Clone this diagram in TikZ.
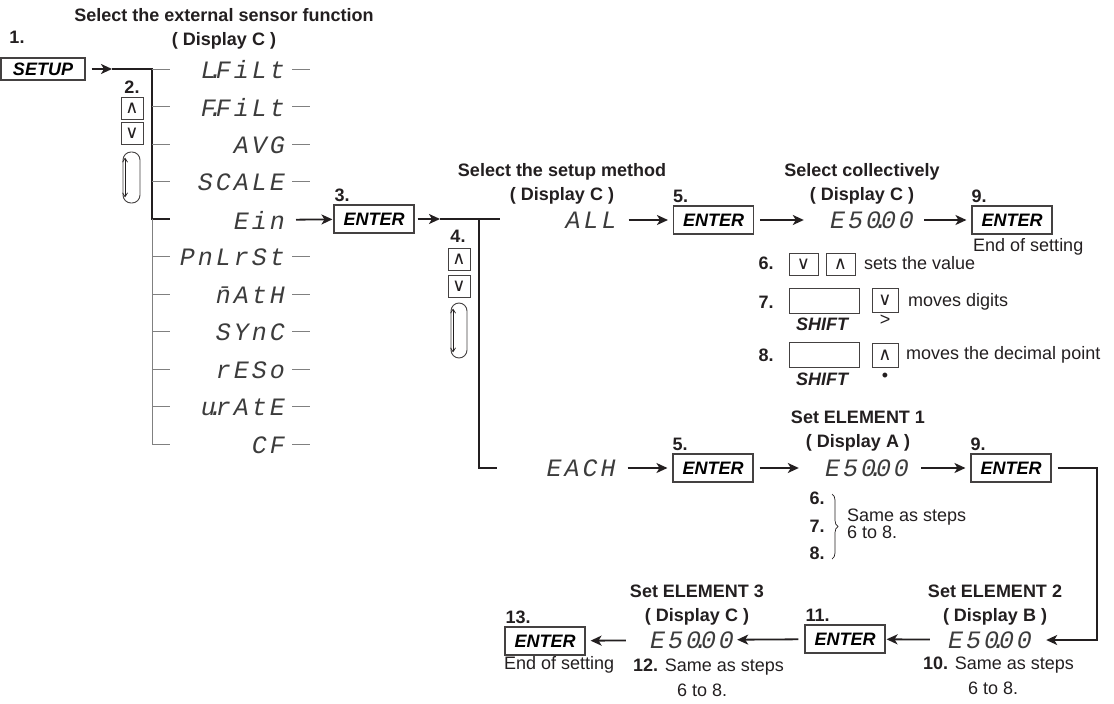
\documentclass[tikz,border=0pt]{standalone}
\usepackage{fontspec}
\setmainfont{Liberation Sans}
\newfontfamily\segfont[LetterSpace=12]{Liberation Mono}
\newfontfamily\symfont{DejaVu Sans}
\usepackage{tikz}
\usetikzlibrary{arrows.meta,positioning,decorations.pathreplacing}
\definecolor{YKInk}{HTML}{231F20}
\definecolor{YKSeg}{HTML}{3C3C3C}
\definecolor{YKGrey}{HTML}{808080}
\newcommand\txtsize{\fontsize{18}{19}\selectfont}
\newcommand\hdrsize{\fontsize{18}{24}\selectfont}
\newcommand\notesize{\fontsize{18}{25}\selectfont}
\newcommand\segsize{\fontsize{25}{26}\selectfont}
\newcommand\segdot{\makebox[0pt]{.}}
\newcommand\keyup{{\symfont ∧}}
\newcommand\keydn{{\symfont ∨}}

\begin{document}
\begin{tikzpicture}[x=1pt,y=-1pt,
    txt/.style={font=\txtsize,inner sep=2pt,text=YKInk},
    hdr/.style={font=\hdrsize\bfseries,align=center,inner sep=0pt,text=YKInk},
    num/.style={font=\txtsize\bfseries,inner sep=0pt,text=YKInk},
    keylbl/.style={font=\txtsize\bfseries\itshape,inner sep=0pt,text=YKInk},
    keymark/.style={font=\fontsize{18}{18}\selectfont,inner sep=0pt,text=YKInk},
    seg/.style={font=\segsize\segfont\itshape,inner sep=2pt,text=YKSeg},
    enterbox/.style={draw=YKInk!85,line width=1.1pt,minimum width=80pt,minimum height=28pt,
      inner sep=0pt,font=\txtsize\bfseries\itshape},
    keybox/.style={draw=YKInk!85,line width=1pt,minimum width=22pt,minimum height=22pt,
      inner sep=0pt,font=\fontsize{18}{18}\selectfont,text=YKInk},
    shiftbox/.style={draw=YKInk!85,line width=1pt,minimum width=70pt,minimum height=25pt,inner sep=0pt},
    cycbox/.style={draw=YKInk!85,line width=0.9pt,rounded corners=8pt,minimum width=17pt,
      minimum height=51pt,inner sep=0pt},
    flow/.style={-{Stealth[length=11pt,width=10pt,inset=3pt]},line width=1.8pt,draw=YKInk,
      shorten <=6pt,shorten >=5pt},
    bus/.style={line width=2pt,draw=YKInk},
    tick/.style={line width=0.8pt,draw=YKGrey},
    cycar/.style={{Straight Barb[length=4pt,width=5pt]}-{Straight Barb[length=4pt,width=5pt]},
      line width=0.7pt,draw=YKInk},
    brace/.style={decorate,decoration={brace,amplitude=6pt},line width=0.7pt,draw=YKInk}
  ]
  \useasboundingbox (0,0) rectangle (1114,704);

  % external sensor function
  \node[hdr] (hdrfn) at (224,29) {Select the external sensor function\\( Display C )};
  \node[num] (n1) at (17,37) {1.};
  \node[enterbox,minimum width=84pt,minimum height=22pt] (setup) at (43,69) {SETUP};
  \coordinate (busA) at (112,69);
  \coordinate (busB) at (152,69);
  \coordinate (busE) at (152,219);
  \draw[flow,shorten >=0pt] (setup) -- (busA);
  \draw[bus] (busA) -- (busB) -- (busE) -- ++(18,0);
  \draw[tick] (busE) -- (152,444);
  \foreach \i/\s in {1/L\segdot FiLt,2/F\segdot FiLt,3/AVG,4/SCALE,5/Ein,6/PnLrSt,
      7/\=nAtH,8/SYnC,9/rESo,10/u\segdot rAtE,11/CF}{
    \node[seg,anchor=east] (fn\i) at (287,{32.5+37.5*\i}) {\s};
    \ifnum\i=5\else
      \draw[tick] (152,{31.5+37.5*\i}) -- ++(18,0);
      \draw[tick] (292,{31.5+37.5*\i}) -- ++(18,0);
    \fi
  }

  \node[num] (n2) at (132,87) {2.};
  \node[keybox] (up2) at (132,108) {\keyup};
  \node[keybox] (dn2) at (132,133) {\keydn};
  \node[cycbox] (cyc2) at (131.5,177.5) {};
  \draw[cycar] ([xshift=2.5pt,yshift=-6pt]cyc2.north west) -- ([xshift=2.5pt,yshift=6pt]cyc2.south west);

  % setup method
  \node[enterbox] (ent3) at (374,219) {ENTER};
  \node[num,above right=3pt and 1pt of ent3.north west] (n3) {3.};
  \draw[flow,shorten <=9pt,shorten >=1pt] (fn5) -- (ent3);
  \coordinate (busF) at (440,219);
  \coordinate (busG) at (479,219);
  \coordinate (busH) at (479,468);
  \draw[flow,shorten <=3pt,shorten >=0pt] (ent3) -- (busF);
  \draw[bus] (busF) -- (500,219);
  \draw[bus] (busG) -- (busH) -- ++(18,0);

  \node[num] (n4) at (458,236) {4.};
  \node[keybox] (up4) at (459,259.5) {\keyup};
  \node[keybox] (dn4) at (459,286) {\keydn};
  \node[cycbox,minimum width=16pt,minimum height=55pt] (cyc4) at (459,330.5) {};
  \draw[cycar] ([xshift=2.5pt,yshift=-6pt]cyc4.north west) -- ([xshift=2.5pt,yshift=6pt]cyc4.south west);

  % collective setting
  \node[hdr] (hdrmeth) at (562,183.5) {Select the setup method\\( Display C )};
  \node[seg] (allv) at (591,220) {ALL};
  \node[enterbox] (ent5a) at (713.5,220) {ENTER};
  \node[num,above right=3pt and 0pt of ent5a.north west] (n5a) {5.};
  \node[hdr] (hdrcol) at (862,183.5) {Select collectively\\( Display C )};
  \node[seg] (colv) at (872,220) {E50\segdot 00};
  \node[enterbox] (ent9a) at (1012,220) {ENTER};
  \node[num,above right=3pt and 0pt of ent9a.north west] (n9a) {9.};
  \node[txt,anchor=north west] (endA) at (971,236) {End of setting};
  \draw[flow,shorten <=10pt] (allv) -- (ent5a);
  \draw[flow,shorten >=24pt] (ent5a) -- (colv);
  \draw[flow,shorten <=8pt] (colv) -- (ent9a);

  \node[num] (s6) at (766,263) {6.};
  \node[keybox,minimum width=29pt] (k6d) at (803.5,264) {\keydn};
  \node[keybox,minimum width=29pt] (k6u) at (840.5,264) {\keyup};
  \node[txt,anchor=west] (t6) at (862,263) {sets the value};
  \node[num] (s7) at (766,302) {7.};
  \node[shiftbox] (sh7) at (824,300.5) {};
  \node[keylbl] (sh7l) at (822,324) {SHIFT};
  \node[keybox,minimum width=26pt,minimum height=24pt] (k7) at (885,300) {\keydn};
  \node[keymark,below=2pt of k7] (k7l) {>};
  \node[txt,anchor=west] (t7) at (906,302) {moves digits};
  \node[num] (s8) at (766,355) {8.};
  \node[shiftbox] (sh8) at (824,355) {};
  \node[keylbl] (sh8l) at (822,379) {SHIFT};
  \node[keybox,minimum width=26pt,minimum height=24pt] (k8) at (885,355) {\keyup};
  \node[keymark,below=5pt of k8] (k8l) {\textbullet};
  \node[txt,anchor=west] (t8) at (904,355) {moves the decimal point};

  % each element
  \node[seg] (eachv) at (581,468) {EACH};
  \node[enterbox] (ent5b) at (713,468) {ENTER};
  \node[num,above right=3pt and 0pt of ent5b.north west] (n5b) {5.};
  \node[hdr] (hdrel1) at (858,431.5) {Set ELEMENT 1\\( Display A )};
  \node[seg] (el1v) at (867,468) {E50\segdot 00};
  \node[enterbox] (ent9b) at (1011,468) {ENTER};
  \node[num,above right=3pt and 0pt of ent9b.north west] (n9b) {9.};
  \draw[flow,shorten <=10pt] (eachv) -- (ent5b);
  \draw[flow,shorten >=24pt] (ent5b) -- (el1v);
  \draw[flow,shorten <=10pt] (el1v) -- (ent9b);

  \node[num] (r6) at (817,498) {6.};
  \node[num] (r7) at (817,526) {7.};
  \node[num] (r8) at (817,553) {8.};
  \draw[brace] (832,494) -- (832,559);
  \node[txt,anchor=west,align=left,font=\fontsize{18}{17}\selectfont] (same1) at (845,523.5) {Same as steps\\6 to 8.};

  \node[hdr] (hdrel2) at (995,605) {Set ELEMENT 2\\( Display B )};
  \node[seg] (el2v) at (990,640) {E50\segdot 00};
  \node[txt,anchor=west,align=left,font=\notesize] (same2) at (921,675.5) {\textbf{10.} Same as steps\\\hspace*{45pt}6 to 8.};
  \coordinate (turnA) at (1097,468);
  \draw[flow,shorten >=12pt] (ent9b) -- (turnA) |- (el2v);

  \node[enterbox] (ent11) at (845,639) {ENTER};
  \node[num,above right=3pt and 1pt of ent11.north west] (n11) {11.};
  \node[hdr] (hdrel3) at (697,605) {Set ELEMENT 3\\( Display C )};
  \node[seg] (el3v) at (692,640) {E50\segdot 00};
  \node[txt,anchor=west,align=left,font=\notesize] (same3) at (631,677.5) {\textbf{12.} Same as steps\\\hspace*{44pt}6 to 8.};
  \node[enterbox] (ent13) at (545,641) {ENTER};
  \node[num,above right=3pt and 1pt of ent13.north west] (n13) {13.};
  \node[txt,anchor=west] (endB) at (502,665) {End of setting};
  \draw[flow,shorten <=16pt,shorten >=1pt] (el2v) -- (ent11);
  \draw[flow,shorten >=1pt] (ent11) -- (el3v);
  \draw[flow,shorten <=22pt] (el3v) -- (ent13);
\end{tikzpicture}
\end{document}
